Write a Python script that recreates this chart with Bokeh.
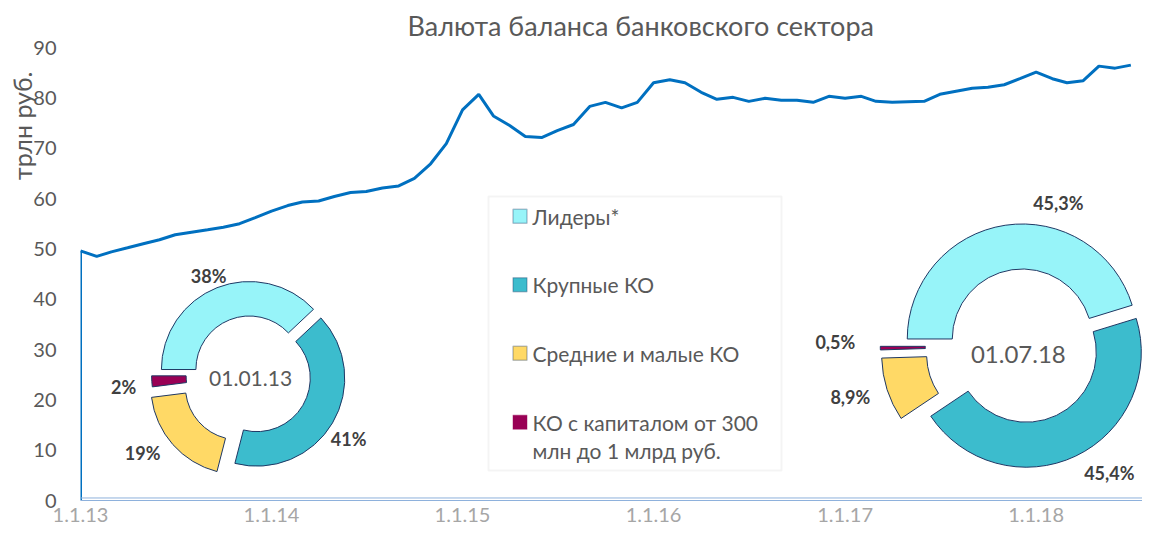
import math
import pandas as pd
from bokeh.plotting import figure
from bokeh.models import Range1d, FixedTicker, Label, BoxAnnotation, Span, Title
from bokeh.embed import file_html
from bokeh.resources import INLINE

# ---------------- data ----------------
month_start = "2013-01-01"
month_end = "2018-07-01"
balance = [49.6, 48.5, 49.4, 50.2, 51.0, 51.8, 52.8, 53.3, 53.8, 54.3, 55.0, 56.2,
           57.5, 58.6, 59.3, 59.5, 60.4, 61.2, 61.4, 62.1, 62.5, 64.0, 66.9, 70.9,
           77.6, 80.7, 76.4, 74.5, 72.3, 72.1, 73.5, 74.7, 78.3, 79.1, 78.0, 79.1,
           83.0, 83.6, 83.0, 81.1, 79.7, 80.1, 79.3, 79.9, 79.5, 79.5, 79.1, 80.3,
           79.9, 80.3, 79.3, 79.1, 79.2, 79.3, 80.7, 81.3, 81.9, 82.1, 82.6, 83.8,
           85.1, 83.8, 83.0, 83.4, 86.3, 85.9, 86.5]
year_ticks = ["2013-01-01", "2014-01-01", "2015-01-01", "2016-01-01", "2017-01-01", "2018-01-01"]
year_labels = ["1.1.13", "1.1.14", "1.1.15", "1.1.16", "1.1.17", "1.1.18"]
y_ticks = [0, 10, 20, 30, 40, 50, 60, 70, 80, 90]

groups = ["Лидеры*", "Крупные КО", "Средние и малые КО", "КО с капиталом от 300", "млн до 1 млрд руб."]
share_2013 = [38, 41, 19, 2]
share_2018 = [45.3, 45.4, 8.9, 0.5]
share_labels_2013 = ["38%", "41%", "19%", "2%"]
share_labels_2018 = ["45,3%", "45,4%", "8,9%", "0,5%"]
donut_dates = ["01.01.13", "01.07.18"]
title_text = "Валюта баланса банковского сектора"
y_title = "трлн руб."

# ---------------- style / layout ----------------
FONT = "Lato"
W, H = 1142, 532
FL, FR, FT, FB = 80, 1142, 47, 500          # frame edges in canvas px
COLORS = ["#97F4F9", "#3CBCCD", "#FFD966", "#990055"]
OUTLINE = "#1F3864"
GREY = "#595959"

dates = pd.date_range(month_start, month_end, freq="MS")
x0 = pd.Timestamp(month_start).value / 1e6
x1 = x0 + 66.67 * 30.4375 * 86400000.0
ms_per_px = (x1 - x0) / (FR - FL)
u_per_px = 90.0 / (FB - FT)


def px2x(cx):
    return x0 + (cx - FL) * ms_per_px


def px2y(cy):
    return (FB - cy) * u_per_px


p = figure(width=W, height=H, x_axis_type="datetime",
           x_range=Range1d(x0, x1), y_range=Range1d(0, 90),
           output_backend="svg", toolbar_location=None,
           min_border_left=FL, min_border_right=W - FR,
           min_border_top=FT, min_border_bottom=H - FB)
p.outline_line_color = None
p.xgrid.visible = False
p.ygrid.visible = False
p.background_fill_color = "white"

# titles
p.title = Title(text=title_text, align="left", offset=327, text_font=FONT,
                text_font_size="27px", text_font_style="normal", text_color=GREY, standoff=11)
ytitle = Title(text=y_title, align="right", offset=24, standoff=-12, text_font=FONT,
               text_font_style="normal", text_color=GREY)
ytitle.text_font_size = "25px"
p.add_layout(ytitle, "left")

# axes
tick_ms = [int(pd.Timestamp(t).value // 10**6) for t in year_ticks]
p.xaxis.ticker = FixedTicker(ticks=tick_ms)
p.xaxis.major_label_overrides = {t: l for t, l in zip(tick_ms, year_labels)}
p.xaxis.major_tick_line_color = None
p.xaxis.major_tick_out = 0
p.xaxis.minor_tick_line_color = None
p.xaxis.axis_line_color = "#8EB1DC"
p.xaxis.axis_line_width = 1
p.xaxis.major_label_text_color = "#A6A6A6"
p.xaxis.major_label_text_font = FONT
p.xaxis.major_label_text_font_size = "20px"
p.xaxis.major_label_standoff = 7

p.yaxis.ticker = FixedTicker(ticks=y_ticks)
p.yaxis.major_tick_line_color = None
p.yaxis.major_tick_out = 0
p.yaxis.minor_tick_line_color = None
p.yaxis.axis_line_color = None
p.yaxis.major_label_text_color = GREY
p.yaxis.major_label_text_font = FONT
p.yaxis.major_label_text_font_size = "20px"
p.yaxis.major_label_standoff = 24

p.add_layout(Span(location=0.5, dimension="width", line_color="#8EB1DC", line_width=1))

# series
p.segment(x0=[dates[0]], y0=[0], x1=[dates[0]], y1=[balance[0]], line_color="#0070C0", line_width=3)
p.line(dates, balance, line_color="#0070C0", line_width=3)


# donuts
def donut(cx, cy, r_in, r_out, shares, explode, labels, label_off, center_text, center_off, center_size):
    total = sum(shares)
    c = 270.0
    for share, color, e in zip(shares, COLORS, explode):
        span = 360.0 * share / total
        c1, c2 = c, c + span
        cm = math.radians((c1 + c2) / 2.0)
        sx = cx + e * math.sin(cm)
        sy = cy - e * math.cos(cm)
        p.annular_wedge(x=[px2x(sx)], y=[px2y(sy)], inner_radius=r_in, outer_radius=r_out,
                        inner_radius_units="screen", outer_radius_units="screen",
                        start_angle=math.radians(90.0 - c2), end_angle=math.radians(90.0 - c1),
                        fill_color=color, line_color=OUTLINE, line_width=1)
        c = c2
    for lab, (dx, dy) in zip(labels, label_off):
        p.add_layout(Label(x=cx + dx, y=cy + dy, x_units="canvas", y_units="canvas", text=lab,
                           text_font=FONT, text_font_size="18px", text_font_style="bold",
                           text_color="#404040", text_align="center", text_baseline="middle"))
    p.add_layout(Label(x=cx + center_off[0], y=cy + center_off[1], x_units="canvas", y_units="canvas",
                       text=center_text, text_font=FONT, text_font_size=center_size,
                       text_color=GREY, text_align="center", text_baseline="middle"))


donut(251.1, 374.6, 53.5, 88, share_2013, [6, 6, 17, 12], share_labels_2013,
      [(-43, -99), (97, 64), (-109, 78), (-128, 12)], donut_dates[0], (-1, 3), "21px")
donut(1022.8, 345.4, 70, 115, share_2018, [7, 7, 28, 28], share_labels_2018,
      [(35, -143), (86, 127), (-173, 51), (-188, -4)], donut_dates[1], (-5, 9), "24px")

# legend (manual)
p.add_layout(BoxAnnotation(left=488, right=781, top=196, bottom=470,
                           left_units="canvas", right_units="canvas", top_units="canvas", bottom_units="canvas",
                           fill_color="white", fill_alpha=1, line_color="#D9D9D9", line_width=2))
rows = [215.8, 284.2, 352.7, 421.7]
for i, yy in enumerate(rows):
    p.add_layout(BoxAnnotation(left=512.5, right=526.5, top=yy - 7, bottom=yy + 7,
                               left_units="canvas", right_units="canvas", top_units="canvas", bottom_units="canvas",
                               fill_color=COLORS[i], fill_alpha=1,
                               line_color=OUTLINE if i < 3 else COLORS[i], line_width=1.5))
for i, txt in enumerate(groups):
    yy = rows[i] if i < 4 else rows[3] + 28.5
    p.add_layout(Label(x=532, y=yy, x_units="canvas", y_units="canvas", text=txt,
                       text_font=FONT, text_font_size="21px", text_color=GREY,
                       text_align="left", text_baseline="middle"))

open("out.html", "w").write(file_html(p, INLINE))
